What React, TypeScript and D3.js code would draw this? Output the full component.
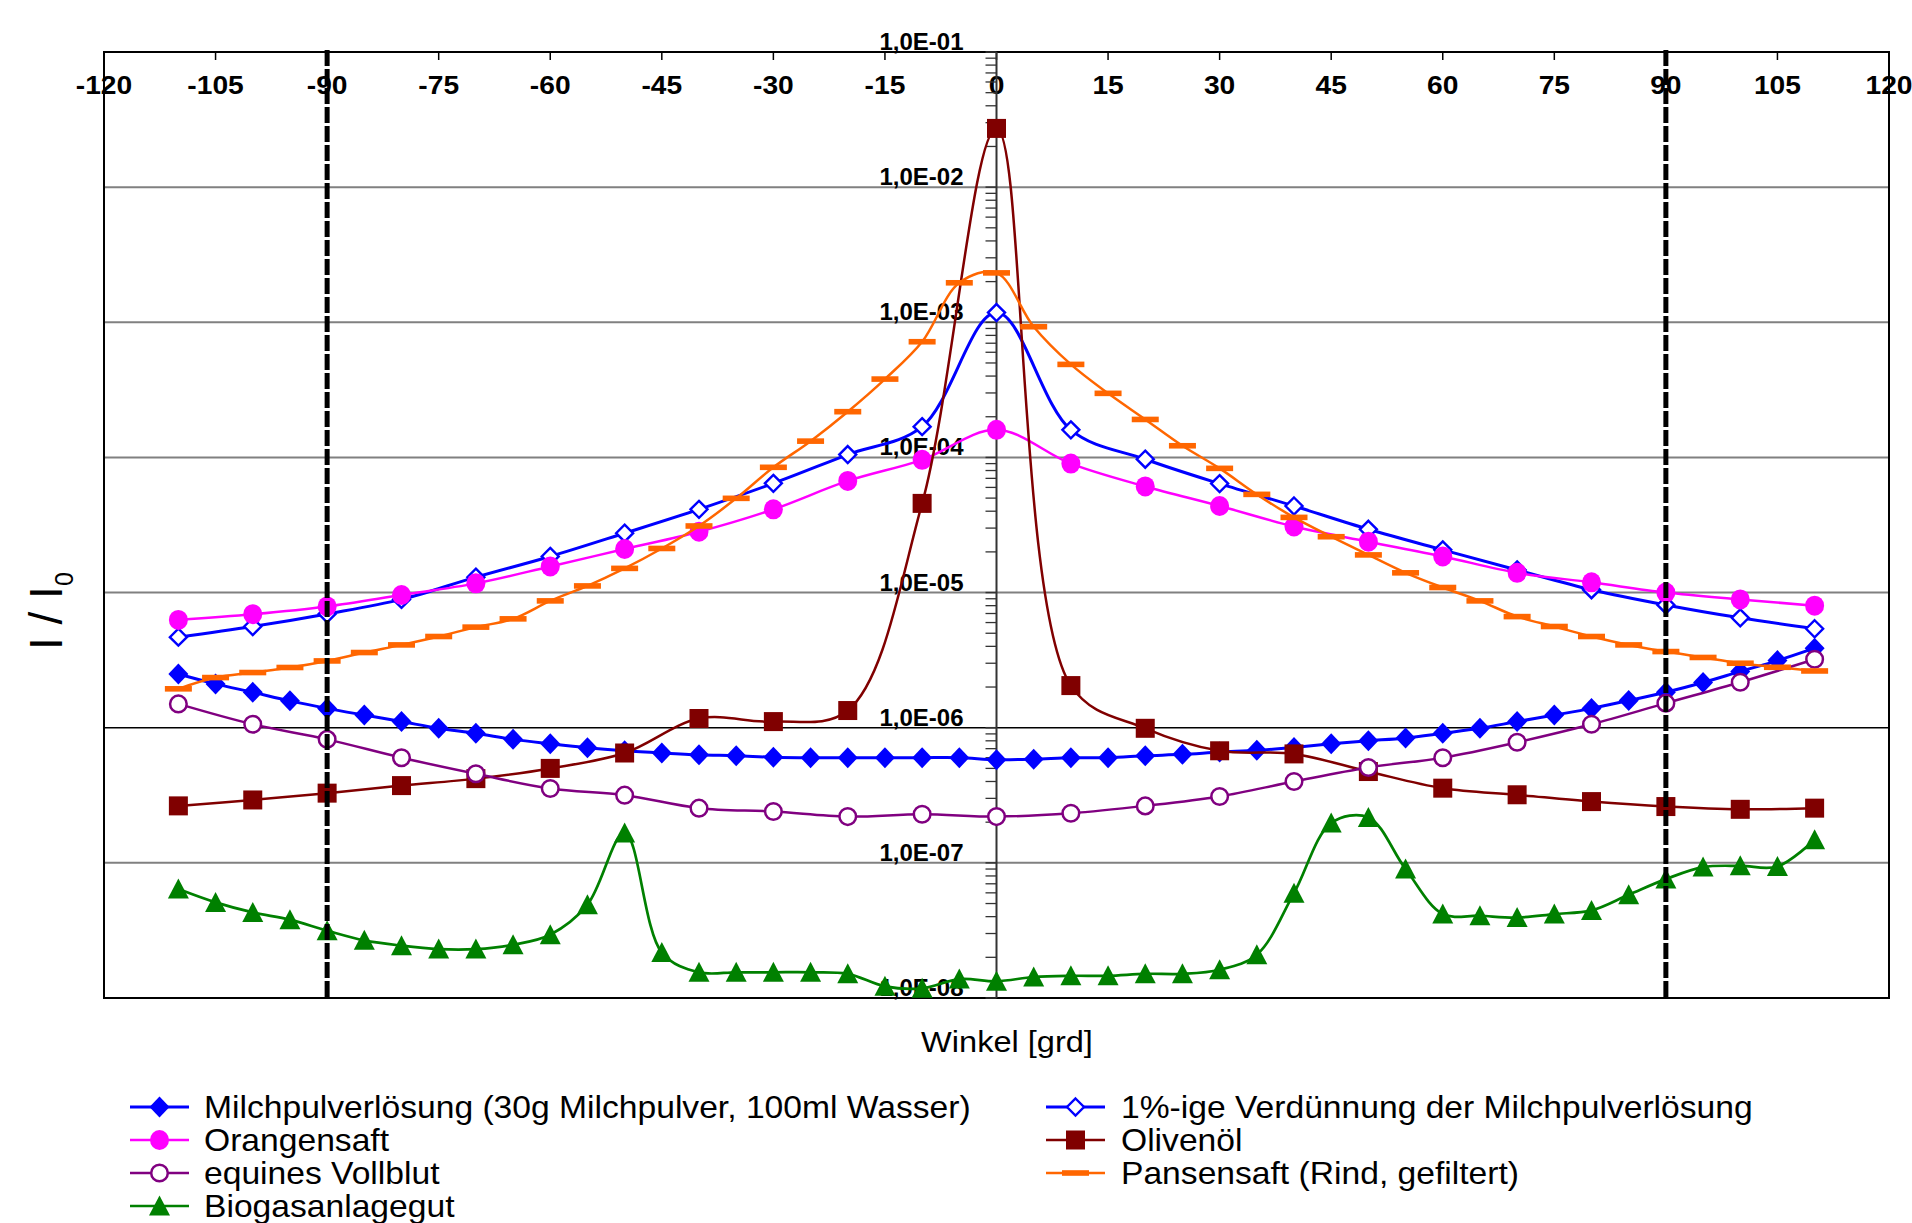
import * as d3 from 'd3';

// angle grids used by the series
const angles5 = [
  -110, -105, -100, -95, -90, -85, -80, -75, -70, -65, -60, -55, -50, -45, -40, -35, -30, -25, -20, -15, -10, -5,
  0, 5, 10, 15, 20, 25, 30, 35, 40, 45, 50, 55, 60, 65, 70, 75, 80, 85, 90, 95, 100, 105, 110,
];
const angles10 = [-110, -100, -90, -80, -70, -60, -50, -40, -30, -20, -10, 0, 10, 20, 30, 40, 50, 60, 70, 80, 90, 100, 110];

const milchpulver = [
  2.5e-6, 2.11e-6, 1.83e-6, 1.58e-6, 1.39e-6, 1.24e-6, 1.11e-6, 9.9e-7, 9.1e-7, 8.2e-7, 7.6e-7, 7.1e-7, 6.75e-7, 6.5e-7,
  6.3e-7, 6.2e-7, 6.05e-7, 6.0e-7, 6.0e-7, 6.0e-7, 6.0e-7, 6.0e-7, 5.8e-7, 5.85e-7, 6.0e-7, 6.0e-7, 6.2e-7, 6.35e-7,
  6.6e-7, 6.8e-7, 7.15e-7, 7.6e-7, 8.0e-7, 8.4e-7, 9.1e-7, 9.9e-7, 1.11e-6, 1.24e-6, 1.39e-6, 1.59e-6, 1.83e-6, 2.16e-6,
  2.61e-6, 3.14e-6, 3.88e-6,
];
const verduennung = [
  4.68e-6, 5.61e-6, 6.95e-6, 8.9e-6, 1.3e-5, 1.85e-5, 2.75e-5, 4.13e-5, 6.43e-5, 1.05e-4, 1.69e-4, 1.18e-3, 1.6e-4,
  9.7e-5, 6.4e-5, 4.37e-5, 2.94e-5, 2.07e-5, 1.47e-5, 1.05e-5, 8.1e-6, 6.5e-6, 5.4e-6,
];
const orangensaft = [
  6.28e-6, 6.92e-6, 7.9e-6, 9.6e-6, 1.17e-5, 1.56e-5, 2.1e-5, 2.82e-5, 4.13e-5, 6.7e-5, 9.6e-5, 1.6e-4, 9.0e-5, 6.1e-5,
  4.37e-5, 3.08e-5, 2.38e-5, 1.85e-5, 1.4e-5, 1.19e-5, 1.0e-5, 8.9e-6, 8.0e-6,
];
const olivenoel = [
  2.64e-7, 2.92e-7, 3.28e-7, 3.73e-7, 4.2e-7, 5.0e-7, 6.5e-7, 1.17e-6, 1.11e-6, 1.34e-6, 4.57e-5, 2.72e-2, 2.05e-6,
  9.9e-7, 6.75e-7, 6.4e-7, 4.74e-7, 3.57e-7, 3.19e-7, 2.84e-7, 2.61e-7, 2.49e-7, 2.54e-7,
];
const vollblut = [
  1.5e-6, 1.06e-6, 8.2e-7, 6.0e-7, 4.56e-7, 3.55e-7, 3.17e-7, 2.54e-7, 2.4e-7, 2.2e-7, 2.29e-7, 2.2e-7, 2.33e-7, 2.64e-7,
  3.1e-7, 4.0e-7, 5.08e-7, 6.0e-7, 7.8e-7, 1.06e-6, 1.52e-6, 2.17e-6, 3.21e-6,
];
const pansensaft = [
  1.94e-6, 2.35e-6, 2.56e-6, 2.79e-6, 3.12e-6, 3.6e-6, 4.1e-6, 4.73e-6, 5.55e-6, 6.39e-6, 8.68e-6, 1.12e-5, 1.51e-5,
  2.12e-5, 3.11e-5, 4.98e-5, 8.45e-5, 1.32e-4, 2.18e-4, 3.8e-4, 7.18e-4, 1.96e-3, 2.32e-3, 9.27e-4, 4.88e-4, 2.98e-4,
  1.91e-4, 1.22e-4, 8.3e-5, 5.33e-5, 3.6e-5, 2.59e-5, 1.9e-5, 1.4e-5, 1.09e-5, 8.68e-6, 6.64e-6, 5.61e-6, 4.73e-6,
  4.1e-6, 3.66e-6, 3.31e-6, 3.0e-6, 2.8e-6, 2.63e-6,
];
const biogas = [
  6.4e-8, 5.1e-8, 4.3e-8, 3.8e-8, 3.15e-8, 2.67e-8, 2.44e-8, 2.3e-8, 2.3e-8, 2.48e-8, 2.94e-8, 4.9e-8, 1.66e-7, 2.17e-8,
  1.55e-8, 1.55e-8, 1.55e-8, 1.55e-8, 1.51e-8, 1.22e-8, 1.18e-8, 1.38e-8, 1.33e-8, 1.43e-8, 1.46e-8, 1.46e-8, 1.51e-8,
  1.51e-8, 1.62e-8, 2.09e-8, 5.97e-8, 1.97e-7, 2.17e-7, 9.0e-8, 4.18e-8, 4.06e-8, 3.94e-8, 4.18e-8, 4.45e-8, 5.81e-8,
  7.58e-8, 9.3e-8, 9.5e-8, 9.4e-8, 1.48e-7,
];

const xTickValues = [-120, -105, -90, -75, -60, -45, -30, -15, 0, 15, 30, 45, 60, 75, 90, 105, 120];
const yTickValues = [1e-1, 1e-2, 1e-3, 1e-4, 1e-5, 1e-6, 1e-7, 1e-8];
const yTickLabels = ['1,0E-01', '1,0E-02', '1,0E-03', '1,0E-04', '1,0E-05', '1,0E-06', '1,0E-07', '1,0E-08'];
const refAngles = [-90, 90];

type Marker = 'diamond' | 'diamondOpen' | 'circle' | 'circleOpen' | 'square' | 'dash' | 'triangle';

interface Series {
  name: string;
  angles: number[];
  values: number[];
  color: string;
  width: number;
  marker: Marker;
}

const series: Series[] = [
  { name: 'Milchpulverlösung (30g Milchpulver, 100ml Wasser)', angles: angles5, values: milchpulver, color: '#0000ff', width: 3, marker: 'diamond' },
  { name: '1%-ige Verdünnung der Milchpulverlösung', angles: angles10, values: verduennung, color: '#0000ff', width: 3, marker: 'diamondOpen' },
  { name: 'Orangensaft', angles: angles10, values: orangensaft, color: '#ff00ff', width: 2.5, marker: 'circle' },
  { name: 'Olivenöl', angles: angles10, values: olivenoel, color: '#800000', width: 2.5, marker: 'square' },
  { name: 'equines Vollblut', angles: angles10, values: vollblut, color: '#800080', width: 2.5, marker: 'circleOpen' },
  { name: 'Pansensaft (Rind, gefiltert)', angles: angles5, values: pansensaft, color: '#ff6600', width: 2.5, marker: 'dash' },
  { name: 'Biogasanlagegut', angles: angles5, values: biogas, color: '#008000', width: 2.7, marker: 'triangle' },
];

const W = 1912;
const H = 1223;
const margin = { left: 104, right: 23, top: 52, bottom: 225 };
const FONT = 'Liberation Sans, Arial, Helvetica, sans-serif';
// the source text is a little wider than plain Arial
const STRETCH = 1.085;

function MarkerShape({ type, cx, cy, color }: { type: Marker; cx: number; cy: number; color: string }) {
  switch (type) {
    case 'diamond':
      return <path d={`M${cx},${cy - 10.5}L${cx + 10},${cy}L${cx},${cy + 10.5}L${cx - 10},${cy}Z`} fill={color} />;
    case 'diamondOpen':
      return (
        <path d={`M${cx},${cy - 8.5}L${cx + 8.5},${cy}L${cx},${cy + 8.5}L${cx - 8.5},${cy}Z`} fill="#fff" stroke={color} strokeWidth={2.4} />
      );
    case 'circle':
      return <ellipse cx={cx} cy={cy} rx={9.5} ry={10} fill={color} />;
    case 'circleOpen':
      return <circle cx={cx} cy={cy} r={8.3} fill="#fff" stroke={color} strokeWidth={2.5} />;
    case 'square':
      return <rect x={cx - 9.5} y={cy - 9.5} width={19} height={19} fill={color} />;
    case 'dash':
      return <rect x={cx - 13.5} y={cy - 2.8} width={27} height={5.6} fill={color} />;
    case 'triangle':
      return <path d={`M${cx},${cy - 10.5}L${cx + 10.5},${cy + 9.5}L${cx - 10.5},${cy + 9.5}Z`} fill={color} />;
  }
}

function WideText({ x, y, size, anchor = 'start', bold = false, children }: {
  x: number; y: number; size: number; anchor?: string; bold?: boolean; children: React.ReactNode;
}) {
  return (
    <text
      transform={`translate(${x},${y}) scale(${STRETCH},1)`}
      textAnchor={anchor}
      fontSize={size}
      fontWeight={bold ? 'bold' : 'normal'}
    >
      {children}
    </text>
  );
}

export default function App() {
  const x = d3.scaleLinear().domain([-120, 120]).range([margin.left, W - margin.right]);
  const y = d3.scaleLog().domain([1e-8, 1e-1]).range([H - margin.bottom, margin.top]);
  const x0 = x(0);
  const yTop = y(1e-1);
  const yBot = y(1e-8);

  const line = d3
    .line<[number, number]>()
    .x((d) => x(d[0]))
    .y((d) => y(d[1]))
    .curve(d3.curveCatmullRom.alpha(0.5));

  // minor log ticks on the centre axis
  const minorTicks: number[] = [];
  for (let e = -8; e < -1; e++) {
    for (let k = 2; k <= 9; k++) minorTicks.push(k * Math.pow(10, e));
  }

  const legendRows = [1107, 1140, 1173, 1206];
  const legendCols = [{ line: 130, text: 204 }, { line: 1046, text: 1121 }];

  return (
    <div style={{ position: 'absolute', left: 0, top: 0 }}>
      <svg width={W} height={H} style={{ display: 'block', background: '#fff' }} fontFamily={FONT}>
        {/* grid lines */}
        {yTickValues.slice(1, -1).map((v) => (
          <line
            key={v}
            x1={margin.left}
            x2={W - margin.right}
            y1={y(v)}
            y2={y(v)}
            stroke={v === 1e-6 ? '#000' : '#808080'}
            strokeWidth={v === 1e-6 ? 1.6 : 2}
          />
        ))}

        {/* x tick labels on top */}
        {xTickValues.map((t) => (
          <WideText key={t} x={x(t)} y={94} size={26} anchor="middle" bold>
            {t}
          </WideText>
        ))}

        {/* y tick labels next to the centre axis */}
        {yTickValues.map((v, i) => (
          <text key={v} x={x0 - 33} y={y(v) - 2} textAnchor="end" fontSize={24} fontWeight="bold">
            {yTickLabels[i]}
          </text>
        ))}

        {/* plot border */}
        <rect x={margin.left} y={yTop} width={W - margin.right - margin.left} height={yBot - yTop} fill="none" stroke="#000" strokeWidth={2} />

        {/* x ticks on top border */}
        {xTickValues.map((t) => (
          <line key={t} x1={x(t)} x2={x(t)} y1={yTop} y2={yTop + 8} stroke="#000" strokeWidth={1.5} />
        ))}

        {/* centre y axis */}
        <line x1={x0} x2={x0} y1={yTop} y2={yBot} stroke="#333" strokeWidth={2} />
        {yTickValues.map((v) => (
          <line key={v} x1={x0 - 11} x2={x0} y1={y(v)} y2={y(v)} stroke="#333" strokeWidth={1.5} />
        ))}
        {minorTicks.map((v) => (
          <line key={v} x1={x0 - 11} x2={x0} y1={y(v)} y2={y(v)} stroke="#333" strokeWidth={1.3} />
        ))}

        {/* series */}
        {series.map((s) => {
          const pts = s.angles.map((a, i) => [a, s.values[i]] as [number, number]);
          return (
            <g key={s.name}>
              <path d={line(pts) ?? ''} fill="none" stroke={s.color} strokeWidth={s.width} />
              {pts.map((p) => (
                <MarkerShape key={p[0]} type={s.marker} cx={x(p[0])} cy={y(p[1])} color={s.color} />
              ))}
            </g>
          );
        })}

        {/* dashed reference lines at +-90 */}
        {refAngles.map((a) => (
          <line key={a} x1={x(a)} x2={x(a)} y1={yTop - 2} y2={yBot} stroke="#000" strokeWidth={5} strokeDasharray="16 3" />
        ))}

        {/* axis titles */}
        <WideText x={1007} y={1052} size={30} anchor="middle">
          Winkel [grd]
        </WideText>
        <text transform="translate(62,650) rotate(-90)" fontSize={46}>
          I / I
          <tspan fontSize={25} dy={11}>
            0
          </tspan>
        </text>

        {/* legend */}
        {series.map((s, i) => {
          const col = legendCols[i % 2];
          const cy = legendRows[Math.floor(i / 2)];
          return (
            <g key={s.name}>
              <line x1={col.line} x2={col.line + 59} y1={cy} y2={cy} stroke={s.color} strokeWidth={s.width} />
              <MarkerShape type={s.marker} cx={col.line + 29.5} cy={cy} color={s.color} />
              <WideText x={col.text} y={cy + 11} size={31}>
                {s.name}
              </WideText>
            </g>
          );
        })}
      </svg>
    </div>
  );
}
